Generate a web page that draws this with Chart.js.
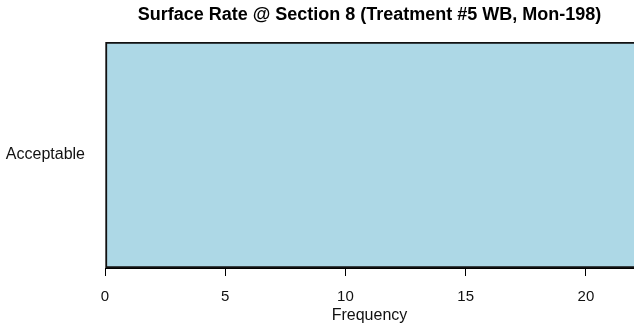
<!DOCTYPE html>
<html>
<head>
<meta charset="utf-8">
<script src="https://cdn.jsdelivr.net/npm/chart.js@4"></script>
<style>
  html, body { margin: 0; padding: 0; background: #fff; }
  #wrap { width: 634px; height: 330px; position: relative; }
</style>
</head>
<body>
<div id="wrap"><canvas id="surfaceChart"></canvas></div>
<script>
// Chart data
const categories = ['Acceptable'];
const frequencies = [22];
const xTickValues = [0, 5, 10, 15, 20];

const chartTitle = 'Surface Rate @ Section 8 (Treatment #5 WB, Mon-198)';
const xTitle = 'Frequency';

document.addEventListener('DOMContentLoaded', (event) => {
    const ctx = document.getElementById('surfaceChart').getContext('2d');
    const fontFamily = '"Liberation Sans", Arial, Helvetica, sans-serif';

    new Chart(ctx, {
        type: 'bar',
        data: {
            labels: categories,
            datasets: [{
                label: xTitle,
                data: frequencies,
                backgroundColor: '#ADD8E6',
                borderColor: '#111',
                borderWidth: { top: 2, left: 2, bottom: 2, right: 0 },
                borderSkipped: false,
                categoryPercentage: 1.0,
                barPercentage: 1.0
            }]
        },
        options: {
            indexAxis: 'y',
            responsive: true,
            maintainAspectRatio: false,
            animation: false,
            layout: { padding: 0 },
            scales: {
                x: {
                    min: 0,
                    max: 22,
                    afterFit: (scale) => { scale.height = 62; },
                    afterBuildTicks: (scale) => {
                        scale.ticks = xTickValues.map(v => ({ value: v }));
                    },
                    border: { display: true, color: '#000', width: 1 },
                    grid: {
                        display: true,
                        drawOnChartArea: false,
                        drawTicks: true,
                        tickLength: 8,
                        color: '#000',
                        lineWidth: 1
                    },
                    ticks: {
                        padding: 12,
                        color: '#111',
                        maxRotation: 0,
                        font: { family: fontFamily, size: 15 }
                    },
                    title: {
                        display: true,
                        text: xTitle,
                        color: '#111',
                        padding: { top: 0, bottom: 5 },
                        font: { family: fontFamily, size: 16 }
                    }
                },
                y: {
                    afterFit: (scale) => { scale.width = 105; },
                    border: { display: false },
                    grid: { display: false },
                    ticks: {
                        padding: 12,
                        color: '#111',
                        font: { family: fontFamily, size: 16 }
                    }
                }
            },
            plugins: {
                legend: { display: false },
                tooltip: { enabled: false },
                title: {
                    display: true,
                    text: chartTitle,
                    fullSize: false,
                    color: '#000',
                    padding: { top: 4, bottom: 16.4 },
                    font: { family: fontFamily, size: 18, weight: 'bold' }
                }
            }
        }
    });
});
</script>
</body>
</html>
